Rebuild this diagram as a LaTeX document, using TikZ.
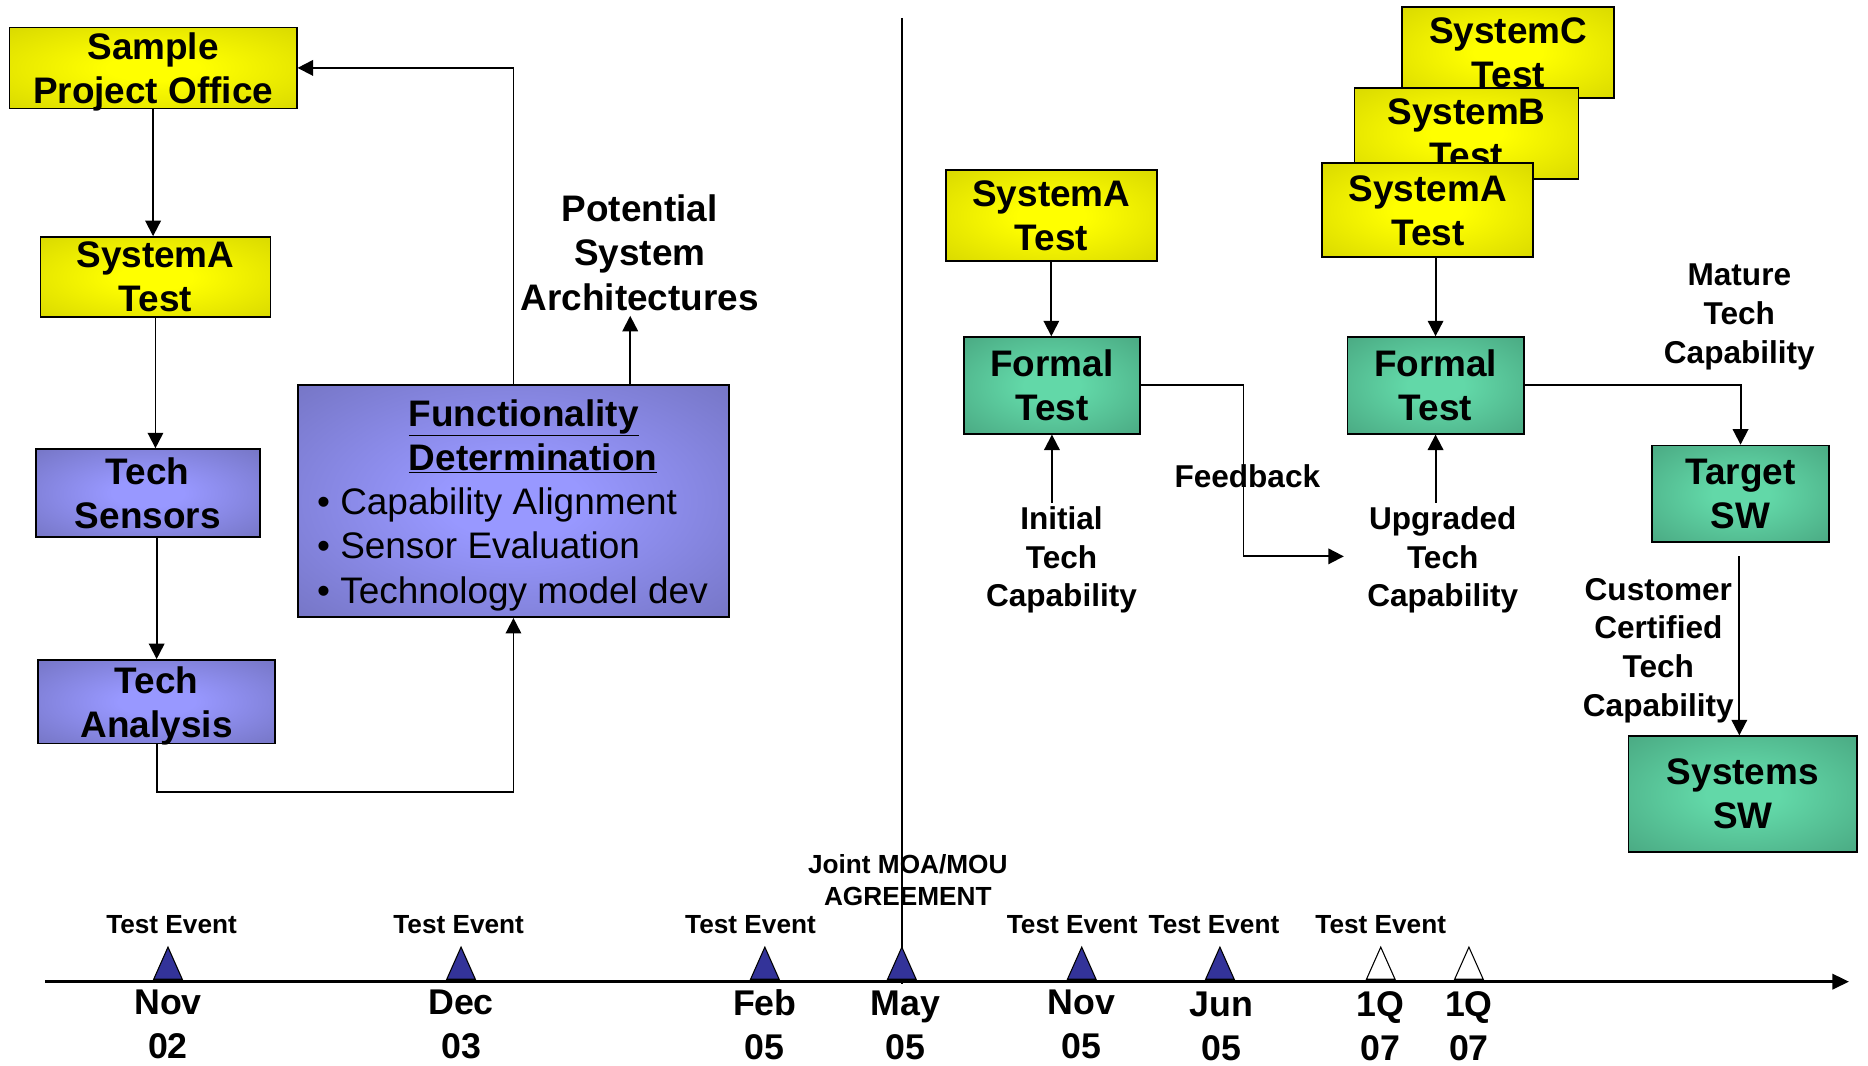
\documentclass[tikz,border=0pt]{standalone}
\usepackage{fontspec}
\setmainfont{Liberation Sans}
\usetikzlibrary{arrows.meta}

% box fills: bright centre fading to a darker rim
\definecolor{ylwIn}{RGB}{255,255,0}
\definecolor{ylwOut}{RGB}{198,198,0}
\definecolor{bluIn}{RGB}{152,152,255}
\definecolor{bluOut}{RGB}{100,100,168}
\definecolor{grnIn}{RGB}{98,216,168}
\definecolor{grnOut}{RGB}{62,146,112}
\definecolor{triBlue}{RGB}{51,51,153}

\pgfdeclareradialshading{ylwglow}{\pgfpointorigin}{color(0bp)=(ylwIn); color(8bp)=(ylwIn); color(50bp)=(ylwOut)}
\pgfdeclareradialshading{bluglow}{\pgfpointorigin}{color(0bp)=(bluIn); color(8bp)=(bluIn); color(50bp)=(bluOut)}
\pgfdeclareradialshading{grnglow}{\pgfpointorigin}{color(0bp)=(grnIn); color(8bp)=(grnIn); color(50bp)=(grnOut)}

\newcommand\bxfont{\fontsize{31}{37}\selectfont\bfseries}
\newcommand\lblfont{\fontsize{26.5}{32.5}\selectfont\bfseries}
\newcommand\evfont{\fontsize{22}{27}\selectfont\bfseries}
\newcommand\datefont{\fontsize{30}{37}\selectfont\bfseries}

\begin{document}
\begin{tikzpicture}[x=1pt,y=-1pt,
  box/.style={draw=black, line width=1.5pt, inner sep=0pt, align=center, font=\bxfont, text depth=0pt, shade},
  ybox/.style={box, shading=ylwglow},
  bbox/.style={box, shading=bluglow},
  gbox/.style={box, shading=grnglow},
  lbl/.style={align=center, font=\lblfont, inner sep=3pt},
  arr/.style={line width=1.6pt, -{Triangle[length=13pt,width=13pt]}},
  ln/.style={line width=1.6pt},
  evt/.style={font=\evfont, inner sep=0pt},
  date/.style={font=\datefont, align=center, inner sep=0pt},
  pics/milestone/.style={code={\draw[line width=0.9pt, fill=#1] (-12,0) -- (0,-27) -- (12,0) -- cycle;}}
]
\useasboundingbox (0,0) rectangle (1568,894);

% ---- left column: development chain ----
\node[ybox, minimum width=241pt, minimum height=68pt] (spo) at (128.5,57) {Sample\\Project Office};
\node[ybox, minimum width=193pt, minimum height=67pt] (sysA1) at (130.5,232.5) {SystemA\\Test};
\node[bbox, minimum width=188pt, minimum height=74pt] (sens) at (124,414) {Tech\\Sensors};
\node[bbox, minimum width=199pt, minimum height=70pt] (anal) at (131.5,589) {Tech\\Analysis};
\node[bbox, minimum width=362pt, minimum height=195pt] (func) at (431,420.5) {};
\node[anchor=west, align=left, font=\bxfont, inner sep=0pt] (fhead) at (343,366)
  {\underline{Functionality}\\\underline{Determination}};
\node[anchor=west, align=left, font=\fontsize{31}{37.5}\selectfont, inner sep=0pt] (fitems) at (266,461)
  {\textbullet\ Capability Alignment\\\textbullet\ Sensor Evaluation\\\textbullet\ Technology model dev};
\node[lbl, font=\fontsize{31}{37.5}\selectfont\bfseries, inner sep=4pt] (psa) at (537,212) {Potential\\System\\Architectures};

\draw[arr] (spo.south) -- (spo.south |- sysA1.north);
\draw[arr] (sysA1.south) -- (sysA1.south |- sens.north);
\draw[arr] (anal.north |- sens.south) -- (anal.north);
\draw[arr] (anal.south) -- ++(0,40) -| (func.south);
\draw[arr] (func.north) |- (spo.east);
\draw[arr] ([xshift=98pt]func.north) -- ([xshift=98pt]func.north |- psa.south);

% ---- divider ----
\coordinate (vtop) at (757,15);
\coordinate (vbot) at (757,826);
\draw[ln] (vtop) -- (vbot);

% ---- right part: testing and software ----
\node[ybox, minimum width=177pt, minimum height=76pt] (sysA2) at (882.5,181) {SystemA\\Test};
\node[gbox, minimum width=148pt, minimum height=81pt] (ft1) at (883,323.5) {Formal\\Test};
\node[lbl] (init) at (891,470) {Initial\\Tech\\Capability};

\node[ybox, minimum width=178pt, minimum height=76pt] (sysC) at (1266,44) {SystemC\\Test};
\node[ybox, minimum width=188pt, minimum height=76pt] (sysB) at (1231,112) {SystemB\\Test};
\node[ybox, minimum width=177pt, minimum height=79pt] (sysA3) at (1198.5,176.5) {SystemA\\Test};
\node[gbox, minimum width=148pt, minimum height=81pt] (ft2) at (1205,323.5) {Formal\\Test};
\node[lbl] (upg) at (1211,470) {Upgraded\\Tech\\Capability};

\node[gbox, minimum width=148pt, minimum height=81pt] (tgt) at (1461,414.5) {Target\\SW};
\node[gbox, minimum width=192pt, minimum height=97pt] (ssw) at (1463,666.5) {Systems\\SW};
\node[lbl] (mature) at (1460,266) {Mature\\Tech\\Capability};
\node[lbl] (cust) at (1392,546) {Customer\\Certified\\Tech\\Capability};

\coordinate (fbEnd) at (1128,467);
\draw[arr] (sysA2.south) -- (sysA2.south |- ft1.north);
\draw[arr] (ft1.south |- init.north) -- (ft1.south);
\draw[arr] (ft1.east) -- ++(86,0) |- (fbEnd);
\node[lbl, inner sep=0pt] (fb) at (1047,400) {Feedback};
\draw[arr] (ft2.north |- sysA3.south) -- (ft2.north);
\draw[arr] (ft2.south |- upg.north) -- (ft2.south);
\draw[arr] (ft2.east) -| (tgt.north);
\draw[arr, shorten <=11pt] ([xshift=-1pt]tgt.south) -- ([xshift=-1pt]tgt.south |- ssw.north);

% ---- timeline ----
\coordinate (t0) at (38,824);
\coordinate (t1) at (1552,824);
\draw[line width=2pt, -{Triangle[length=14pt,width=13pt]}] (t0) -- (t1);

\pic at (141,822) {milestone=triBlue};
\pic at (387,822) {milestone=triBlue};
\pic at (642,822) {milestone=triBlue};
\pic at (757,822) {milestone=triBlue};
\pic at (908,822) {milestone=triBlue};
\pic at (1024,822) {milestone=triBlue};
\pic at (1159,822) {milestone=white};
\pic at (1233,822) {milestone=white};

\node[evt] (ev1) at (144,776) {Test Event};
\node[evt] (ev2) at (385,776) {Test Event};
\node[evt] (ev3) at (630,776) {Test Event};
\node[evt] (ev4) at (900,776) {Test Event};
\node[evt] (ev5) at (1019,776) {Test Event};
\node[evt] (ev6) at (1159,776) {Test Event};
\node[evt, align=center] (moa) at (762,738.5) {Joint MOA/MOU\\AGREEMENT};

\node[date] (d1) at (141,860) {Nov\\02};
\node[date] (d2) at (387,860) {Dec\\03};
\node[date] (d3) at (642,860) {Feb\\05};
\node[date] (d4) at (760,861) {May\\05};
\node[date] (d5) at (908,860) {Nov\\05};
\node[date] (d6) at (1025,861.5) {Jun\\05};
\node[date] (d7) at (1159,861) {1Q\\07};
\node[date] (d8) at (1233,861) {1Q\\07};
\end{tikzpicture}
\end{document}
